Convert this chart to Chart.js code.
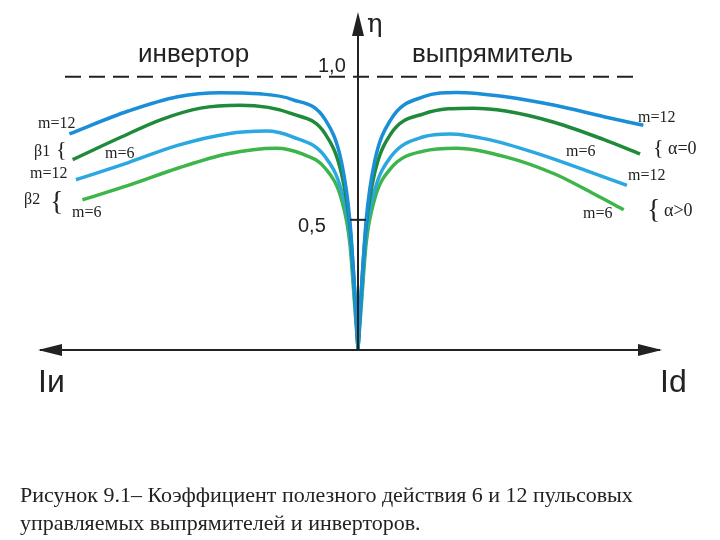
<!DOCTYPE html><html><head><meta charset="utf-8">
<script src="https://cdn.jsdelivr.net/npm/chart.js@4"></script>
<style>body{margin:0;background:#fff}#w{position:relative;width:720px;height:540px}</style></head><body>
<div id="w"><canvas id="c" width="720" height="540"></canvas></div>
<script>
const xRight=[0,1,2.5,5,10,20,30,45,60,75,87];
const blueTopR=[0.05,0.25,0.5,0.7,0.85,0.93,0.945,0.93,0.9,0.86,0.83];
const xRight2=[0,1,2.5,5,10,20,35,45,60,75,86];
const dGreenR=[0.05,0.25,0.48,0.66,0.8,0.87,0.89,0.88,0.84,0.78,0.73];
const xRight3=[0,1,2.5,5,10,20,28,40,55,70,82];
const lBlueR=[0.05,0.22,0.45,0.6,0.72,0.79,0.8,0.78,0.73,0.67,0.62];
const xRight4=[0,1,2.5,5,10,20,30,45,60,72,81];
const greenR=[0.05,0.2,0.42,0.57,0.68,0.74,0.75,0.72,0.66,0.59,0.535];
const xLeft=[0,-1,-2.5,-5,-10,-20,-30,-42,-55,-70,-88];
const blueTopL=[0.05,0.25,0.5,0.7,0.85,0.92,0.94,0.944,0.93,0.88,0.8];
const xLeft2=[0,-1,-2.5,-5,-10,-20,-36,-48,-60,-72,-87];
const dGreenL=[0.05,0.25,0.48,0.66,0.8,0.87,0.9,0.89,0.85,0.79,0.71];
const xLeft3=[0,-1,-2.5,-5,-10,-20,-28,-40,-55,-70,-86];
const lBlueL=[0.05,0.22,0.45,0.6,0.72,0.79,0.81,0.8,0.76,0.7,0.64];
const xLeft4=[0,-1,-2.5,-5,-10,-17,-25,-40,-55,-70,-84];
const greenL=[0.05,0.2,0.42,0.57,0.68,0.73,0.75,0.73,0.68,0.62,0.57];
const pts=(xs,ys)=>xs.map((x,i)=>({x,y:ys[i]}));
const C={blue:'#1a8fd8',dg:'#1e8a3a',lb:'#2ba8e2',g:'#3db54a'};
const ds=(xs,ys,c)=>({data:pts(xs,ys),borderColor:c,borderWidth:3.5,pointRadius:0,tension:0.4,cubicInterpolationMode:'monotone',fill:false});
const deco={id:'deco',afterDraw(ch){const c=ch.ctx,xs=ch.scales.x,ys=ch.scales.y;
const X=v=>xs.getPixelForValue(v),Y=v=>ys.getPixelForValue(v);
c.save();c.strokeStyle='#222';c.fillStyle='#222';c.lineWidth=2;
const ay=Y(0.045),ax=X(0);
c.beginPath();c.moveTo(40,ay);c.lineTo(660,ay);c.stroke();
c.beginPath();c.moveTo(38,ay);c.lineTo(62,ay-6);c.lineTo(62,ay+6);c.fill();
c.beginPath();c.moveTo(662,ay);c.lineTo(638,ay-6);c.lineTo(638,ay+6);c.fill();
c.beginPath();c.moveTo(ax,ay);c.lineTo(ax,18);c.stroke();
c.beginPath();c.moveTo(ax,12);c.lineTo(ax-6,36);c.lineTo(ax+6,36);c.fill();
c.lineWidth=2;c.setLineDash([16,8]);c.beginPath();c.moveTo(65,Y(1));c.lineTo(640,Y(1));c.stroke();c.setLineDash([]);
c.beginPath();c.moveTo(ax-8,Y(0.5));c.lineTo(ax+8,Y(0.5));c.stroke();
c.font='26px "Liberation Sans",Arial';c.textBaseline='alphabetic';
c.fillText('инвертор',138,62);c.fillText('выпрямитель',412,62);
c.font='20px "Liberation Sans"';c.fillText('1,0',318,72);c.fillText('0,5',298,232);
c.font='26px "DejaVu Serif"';c.fillText('η',367,32);
c.font='32px "Liberation Sans"';c.fillText('Iи',38,392);c.fillText('Id',660,392);
c.font='16px "Liberation Serif"';
c.fillText('m=12',38,128);c.fillText('β1',34,156);c.fillText('m=6',105,158);c.fillText('m=12',30,178);
c.fillText('β2',24,204);c.fillText('m=6',72,217);
c.fillText('m=12',638,122);c.fillText('m=6',566,156);c.fillText('m=12',628,180);c.fillText('m=6',583,218);
c.font='18px "Liberation Serif"';c.fillText('α=0',668,154);c.fillText('α>0',664,216);
c.font='22px "Liberation Serif"';c.fillText('{',56,156);c.fillText('{',653,154);
c.font='28px "Liberation Serif"';c.fillText('{',50,210);c.fillText('{',647,218);
c.font='22px "Liberation Serif"';
c.fillText('Рисунок 9.1– Коэффициент полезного действия 6 и 12 пульсовых',20,502);
c.fillText('управляемых выпрямителей и инверторов.',20,530);
c.restore();}};
new Chart(document.getElementById('c'),{type:'line',
data:{datasets:[ds(xRight,blueTopR,C.blue),ds(xRight2,dGreenR,C.dg),ds(xRight3,lBlueR,C.lb),ds(xRight4,greenR,C.g),
ds(xLeft,blueTopL,C.blue),ds(xLeft2,dGreenL,C.dg),ds(xLeft3,lBlueL,C.lb),ds(xLeft4,greenL,C.g)]},
options:{responsive:false,animation:false,layout:{padding:{left:30,right:34,top:48,bottom:177}},
plugins:{legend:{display:false},tooltip:{enabled:false}},
scales:{x:{type:'linear',min:-100,max:100,display:false},y:{min:0,max:1.1,display:false}}},
plugins:[deco]});
</script></body></html>
